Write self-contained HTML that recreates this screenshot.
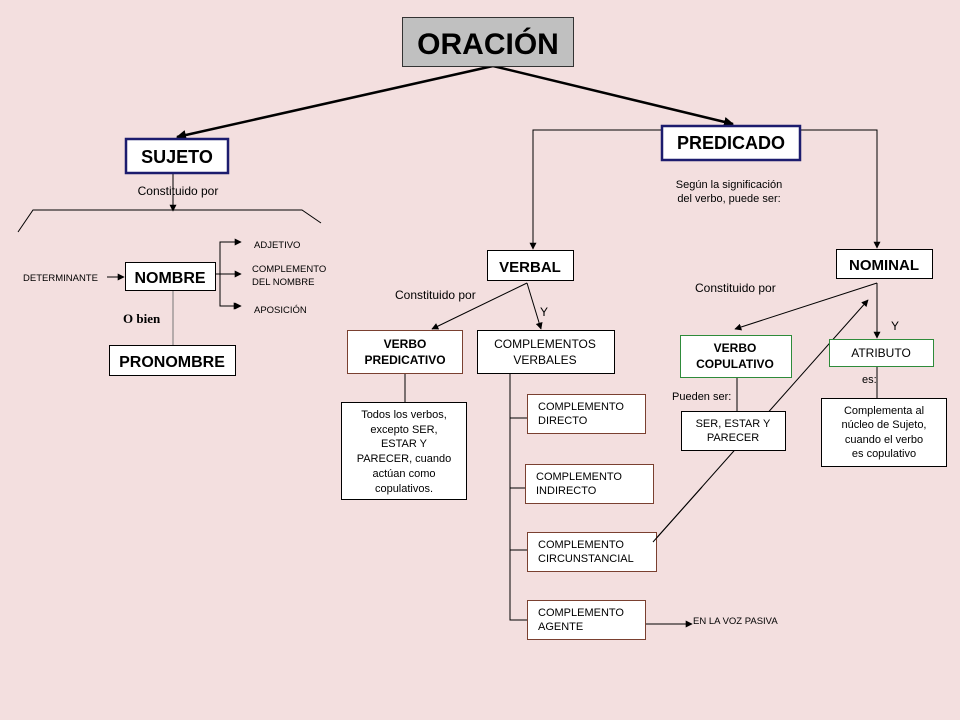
<!DOCTYPE html>
<html><head><meta charset="utf-8"><style>
html,body{margin:0;padding:0;background:#f3dfdf;}
svg{display:block;font-family:"Liberation Sans",sans-serif;}
</style></head><body>
<svg width="960" height="720" viewBox="0 0 960 720" xmlns="http://www.w3.org/2000/svg">
<defs>
<marker id="a" viewBox="0 0 10 10" refX="9" refY="5" markerWidth="7" markerHeight="7" orient="auto" markerUnits="userSpaceOnUse"><path d="M0,0 L10,5 L0,10 z" fill="#000"/></marker>
<marker id="b" viewBox="0 0 10 10" refX="9" refY="5" markerWidth="10" markerHeight="10" orient="auto" markerUnits="userSpaceOnUse"><path d="M0,0 L10,5 L0,10 z" fill="#000"/></marker>
</defs>
<rect width="960" height="720" fill="#f3dfdf"/>
<g stroke="#000" fill="none">
<line x1="493" y1="66" x2="177" y2="137" stroke-width="2.5" marker-end="url(#b)"/>
<line x1="493" y1="66" x2="733" y2="124" stroke-width="2.5" marker-end="url(#b)"/>
<polyline points="661,130 533,130 533,249" stroke-width="1" marker-end="url(#a)"/>
<polyline points="800,130 877,130 877,248" stroke-width="1" marker-end="url(#a)"/>
<line x1="173" y1="173" x2="173" y2="211" marker-end="url(#a)"/>
<polyline points="18,232 33,210 302,210 321,223"/>
<line x1="107" y1="277" x2="124" y2="277" marker-end="url(#a)"/>
<line x1="215" y1="274" x2="220" y2="274"/>
<polyline points="240,242 220,242 220,306 240,306" marker-end="url(#a)"/>
<line x1="220" y1="242" x2="241" y2="242" marker-end="url(#a)"/>
<line x1="220" y1="274" x2="241" y2="274" marker-end="url(#a)"/>
<line x1="220" y1="306" x2="241" y2="306" marker-end="url(#a)"/>
<line x1="173" y1="290" x2="173" y2="345" stroke="#777"/>
<line x1="527" y1="283" x2="432" y2="329" marker-end="url(#a)"/>
<line x1="527" y1="283" x2="541" y2="329" marker-end="url(#a)"/>
<line x1="405" y1="373" x2="405" y2="402"/>
<polyline points="510,373 510,620 527,620"/>
<line x1="510" y1="418" x2="527" y2="418"/>
<line x1="510" y1="488" x2="525" y2="488"/>
<line x1="510" y1="550" x2="527" y2="550"/>
<line x1="645" y1="624" x2="692" y2="624" marker-end="url(#a)"/>
<line x1="653" y1="542" x2="868" y2="300" marker-end="url(#a)"/>
<line x1="877" y1="283" x2="735" y2="329" marker-end="url(#a)"/>
<line x1="877" y1="283" x2="877" y2="338" marker-end="url(#a)"/>
<line x1="737" y1="377" x2="737" y2="411"/>
<line x1="877" y1="366" x2="877" y2="398"/>
</g>
<g stroke-width="1">
<rect x="402.5" y="17.5" width="171" height="49" fill="#c0c0c0" stroke="#333"/>
<rect x="126" y="139" width="102" height="34" fill="#fff" stroke="#1c1c6e" stroke-width="2.5"/>
<rect x="662" y="126" width="138" height="34" fill="#fff" stroke="#1c1c6e" stroke-width="2.5"/>
<rect x="125.5" y="262.5" width="90" height="28" fill="#fff" stroke="#000"/>
<rect x="109.5" y="345.5" width="126" height="30" fill="#fff" stroke="#000"/>
<rect x="487.5" y="250.5" width="86" height="30" fill="#fff" stroke="#000"/>
<rect x="347.5" y="330.5" width="115" height="43" fill="#fff" stroke="#7a4030"/>
<rect x="477.5" y="330.5" width="137" height="43" fill="#fff" stroke="#000"/>
<rect x="341.5" y="402.5" width="125" height="97" fill="#fff" stroke="#000"/>
<rect x="527.5" y="394.5" width="118" height="39" fill="#fff" stroke="#7a4030"/>
<rect x="525.5" y="464.5" width="128" height="39" fill="#fff" stroke="#7a4030"/>
<rect x="527.5" y="532.5" width="129" height="39" fill="#fff" stroke="#7a4030"/>
<rect x="527.5" y="600.5" width="118" height="39" fill="#fff" stroke="#7a4030"/>
<rect x="836.5" y="249.5" width="96" height="29" fill="#fff" stroke="#000"/>
<rect x="680.5" y="335.5" width="111" height="42" fill="#fff" stroke="#2e8b3a"/>
<rect x="829.5" y="339.5" width="104" height="27" fill="#fff" stroke="#2e8b3a"/>
<rect x="681.5" y="411.5" width="104" height="39" fill="#fff" stroke="#000"/>
<rect x="821.5" y="398.5" width="125" height="68" fill="#fff" stroke="#000"/>
</g>
<line x1="653" y1="542" x2="702" y2="487" stroke="#000"/>
<g fill="#000">
<text x="488" y="54" font-size="30" font-weight="bold" text-anchor="middle">ORACIÓN</text>
<text x="177" y="163" font-size="18" font-weight="bold" text-anchor="middle">SUJETO</text>
<text x="731" y="149" font-size="18" font-weight="bold" text-anchor="middle">PREDICADO</text>
<text x="178" y="195" font-size="12" text-anchor="middle">Constituido por</text>
<text x="23" y="281" font-size="9.5">DETERMINANTE</text>
<text x="170" y="283" font-size="16" font-weight="bold" text-anchor="middle">NOMBRE</text>
<text x="254" y="248" font-size="9.5">ADJETIVO</text>
<text x="252" y="272" font-size="9.5">COMPLEMENTO</text>
<text x="252" y="285" font-size="9.5">DEL NOMBRE</text>
<text x="254" y="313" font-size="9.5">APOSICIÓN</text>
<text x="123" y="323" font-size="13" font-weight="bold" font-family="Liberation Serif,serif">O bien</text>
<text x="172" y="367" font-size="16" font-weight="bold" text-anchor="middle">PRONOMBRE</text>
<text x="729" y="188" font-size="11" text-anchor="middle">Según la significación</text>
<text x="729" y="202" font-size="11" text-anchor="middle">del verbo, puede ser:</text>
<text x="530" y="272" font-size="15" font-weight="bold" text-anchor="middle">VERBAL</text>
<text x="884" y="270" font-size="15" font-weight="bold" text-anchor="middle">NOMINAL</text>
<text x="395" y="299" font-size="12">Constituido por</text>
<text x="540" y="316" font-size="12">Y</text>
<text x="405" y="348" font-size="12" font-weight="bold" text-anchor="middle">VERBO</text>
<text x="405" y="364" font-size="12" font-weight="bold" text-anchor="middle">PREDICATIVO</text>
<text x="545" y="348" font-size="12" text-anchor="middle">COMPLEMENTOS</text>
<text x="545" y="364" font-size="12" text-anchor="middle">VERBALES</text>
<g font-size="11" text-anchor="middle">
<text x="404" y="418">Todos los verbos,</text>
<text x="404" y="433">excepto SER,</text>
<text x="404" y="447">ESTAR Y</text>
<text x="404" y="462">PARECER, cuando</text>
<text x="404" y="477">actúan como</text>
<text x="404" y="492">copulativos.</text>
</g>
<g font-size="11">
<text x="538" y="410">COMPLEMENTO</text><text x="538" y="424">DIRECTO</text>
<text x="536" y="480">COMPLEMENTO</text><text x="536" y="494">INDIRECTO</text>
<text x="538" y="548">COMPLEMENTO</text><text x="538" y="562">CIRCUNSTANCIAL</text>
<text x="538" y="616">COMPLEMENTO</text><text x="538" y="630">AGENTE</text>
</g>
<text x="693" y="624" font-size="9.5">EN LA VOZ PASIVA</text>
<text x="695" y="292" font-size="12">Constituido por</text>
<text x="891" y="330" font-size="12">Y</text>
<text x="735" y="352" font-size="12" font-weight="bold" text-anchor="middle">VERBO</text>
<text x="735" y="368" font-size="12" font-weight="bold" text-anchor="middle">COPULATIVO</text>
<text x="881" y="357" font-size="12" text-anchor="middle">ATRIBUTO</text>
<text x="672" y="400" font-size="11">Pueden ser:</text>
<text x="862" y="383" font-size="11">es:</text>
<text x="733" y="427" font-size="11" text-anchor="middle">SER, ESTAR Y</text>
<text x="733" y="441" font-size="11" text-anchor="middle">PARECER</text>
<g font-size="11" text-anchor="middle">
<text x="884" y="414">Complementa al</text>
<text x="884" y="428">núcleo de Sujeto,</text>
<text x="884" y="443">cuando el verbo</text>
<text x="884" y="457">es copulativo</text>
</g>
</g>
</svg>
</body></html>
